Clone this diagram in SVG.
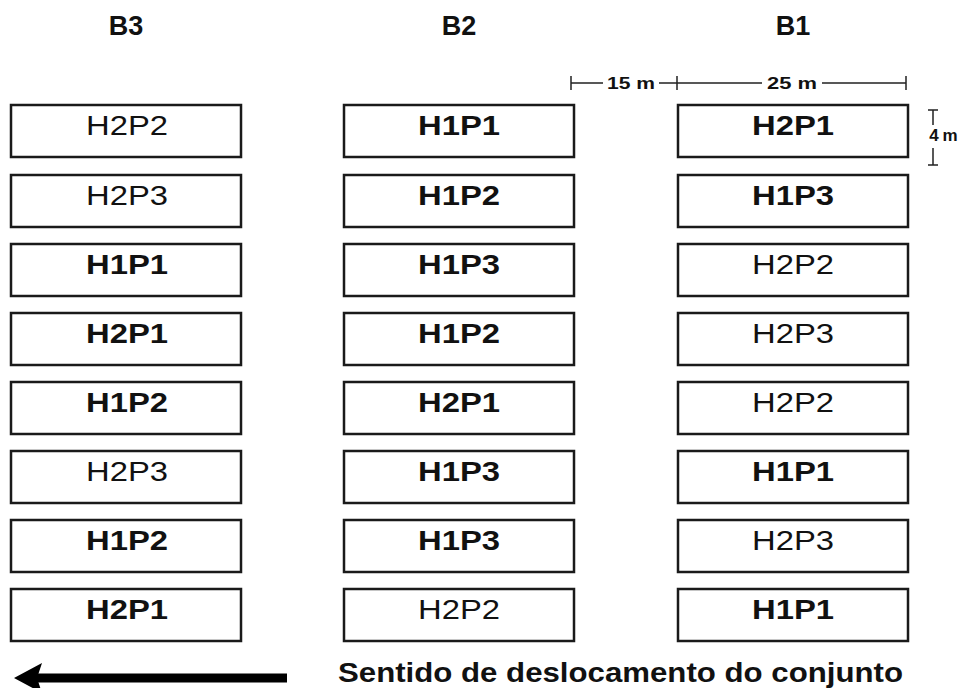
<svg xmlns="http://www.w3.org/2000/svg" width="962" height="688" viewBox="0 0 962 688">
<style>
.box{fill:#fff;stroke:#1a1a1a;stroke-width:2.5}
.lb{font-family:"Liberation Sans",Arial,sans-serif;font-size:27px;text-anchor:middle;fill:#111}
.b{font-weight:bold}
.n{font-weight:normal}
.hd{font-family:"Liberation Sans",Arial,sans-serif;font-size:27px;font-weight:bold;text-anchor:middle;fill:#111}
.dim{stroke:#222;stroke-width:1.5;fill:none}
.dt{font-family:"Liberation Sans",Arial,sans-serif;font-size:17px;font-weight:bold;text-anchor:middle;fill:#111}
</style>
<rect width="962" height="688" fill="#fff"/>
<g id="headers">
<text class="hd" x="126" y="35">B3</text>
<text class="hd" x="459" y="35">B2</text>
<text class="hd" x="793" y="35">B1</text>
</g>
<g id="dimensions">
<path class="dim" d="M571 83H603M659 83H762M822 83H906M571 76V90M677 76V90M906 76V90"/>
<text class="dt" x="631" y="89" textLength="48" lengthAdjust="spacingAndGlyphs">15 m</text>
<text class="dt" x="792" y="89" textLength="50" lengthAdjust="spacingAndGlyphs">25 m</text>
<path class="dim" stroke-width="2.2" d="M928 110H938M933 110V125M933 148V165M928 165H938"/>
<text class="dt" x="934" y="141" font-size="14">4</text>
<text class="dt" x="950" y="141" font-size="14">m</text>
</g>
<g id="col-B3">
<g id="b3-r1"><rect class="box" x="11" y="105" width="230" height="52"/><text class="lb n" x="127" y="135" textLength="82" lengthAdjust="spacingAndGlyphs">H2P2</text></g>
<g id="b3-r2"><rect class="box" x="11" y="175" width="230" height="52"/><text class="lb n" x="127" y="205" textLength="82" lengthAdjust="spacingAndGlyphs">H2P3</text></g>
<g id="b3-r3"><rect class="box" x="11" y="244" width="230" height="52"/><text class="lb b" x="127" y="274" textLength="82" lengthAdjust="spacingAndGlyphs">H1P1</text></g>
<g id="b3-r4"><rect class="box" x="11" y="313" width="230" height="52"/><text class="lb b" x="127" y="343" textLength="82" lengthAdjust="spacingAndGlyphs">H2P1</text></g>
<g id="b3-r5"><rect class="box" x="11" y="382" width="230" height="52"/><text class="lb b" x="127" y="412" textLength="82" lengthAdjust="spacingAndGlyphs">H1P2</text></g>
<g id="b3-r6"><rect class="box" x="11" y="451" width="230" height="52"/><text class="lb n" x="127" y="481" textLength="82" lengthAdjust="spacingAndGlyphs">H2P3</text></g>
<g id="b3-r7"><rect class="box" x="11" y="520" width="230" height="52"/><text class="lb b" x="127" y="550" textLength="82" lengthAdjust="spacingAndGlyphs">H1P2</text></g>
<g id="b3-r8"><rect class="box" x="11" y="589" width="230" height="52"/><text class="lb b" x="127" y="619" textLength="82" lengthAdjust="spacingAndGlyphs">H2P1</text></g>
</g>
<g id="col-B2">
<g id="b2-r1"><rect class="box" x="344" y="105" width="230" height="52"/><text class="lb b" x="459" y="135" textLength="82" lengthAdjust="spacingAndGlyphs">H1P1</text></g>
<g id="b2-r2"><rect class="box" x="344" y="175" width="230" height="52"/><text class="lb b" x="459" y="205" textLength="82" lengthAdjust="spacingAndGlyphs">H1P2</text></g>
<g id="b2-r3"><rect class="box" x="344" y="244" width="230" height="52"/><text class="lb b" x="459" y="274" textLength="82" lengthAdjust="spacingAndGlyphs">H1P3</text></g>
<g id="b2-r4"><rect class="box" x="344" y="313" width="230" height="52"/><text class="lb b" x="459" y="343" textLength="82" lengthAdjust="spacingAndGlyphs">H1P2</text></g>
<g id="b2-r5"><rect class="box" x="344" y="382" width="230" height="52"/><text class="lb b" x="459" y="412" textLength="82" lengthAdjust="spacingAndGlyphs">H2P1</text></g>
<g id="b2-r6"><rect class="box" x="344" y="451" width="230" height="52"/><text class="lb b" x="459" y="481" textLength="82" lengthAdjust="spacingAndGlyphs">H1P3</text></g>
<g id="b2-r7"><rect class="box" x="344" y="520" width="230" height="52"/><text class="lb b" x="459" y="550" textLength="82" lengthAdjust="spacingAndGlyphs">H1P3</text></g>
<g id="b2-r8"><rect class="box" x="344" y="589" width="230" height="52"/><text class="lb n" x="459" y="619" textLength="82" lengthAdjust="spacingAndGlyphs">H2P2</text></g>
</g>
<g id="col-B1">
<g id="b1-r1"><rect class="box" x="678" y="105" width="230" height="52"/><text class="lb b" x="793" y="135" textLength="82" lengthAdjust="spacingAndGlyphs">H2P1</text></g>
<g id="b1-r2"><rect class="box" x="678" y="175" width="230" height="52"/><text class="lb b" x="793" y="205" textLength="82" lengthAdjust="spacingAndGlyphs">H1P3</text></g>
<g id="b1-r3"><rect class="box" x="678" y="244" width="230" height="52"/><text class="lb n" x="793" y="274" textLength="82" lengthAdjust="spacingAndGlyphs">H2P2</text></g>
<g id="b1-r4"><rect class="box" x="678" y="313" width="230" height="52"/><text class="lb n" x="793" y="343" textLength="82" lengthAdjust="spacingAndGlyphs">H2P3</text></g>
<g id="b1-r5"><rect class="box" x="678" y="382" width="230" height="52"/><text class="lb n" x="793" y="412" textLength="82" lengthAdjust="spacingAndGlyphs">H2P2</text></g>
<g id="b1-r6"><rect class="box" x="678" y="451" width="230" height="52"/><text class="lb b" x="793" y="481" textLength="82" lengthAdjust="spacingAndGlyphs">H1P1</text></g>
<g id="b1-r7"><rect class="box" x="678" y="520" width="230" height="52"/><text class="lb n" x="793" y="550" textLength="82" lengthAdjust="spacingAndGlyphs">H2P3</text></g>
<g id="b1-r8"><rect class="box" x="678" y="589" width="230" height="52"/><text class="lb b" x="793" y="619" textLength="82" lengthAdjust="spacingAndGlyphs">H1P1</text></g>
</g>
<g id="connectors">
<path d="M36 678H287" stroke="#000" stroke-width="9"/>
<polygon points="14,678 42,663 37,678 42,693" fill="#000"/>
</g>
<g id="caption">
<text x="338" y="682" font-family="'Liberation Sans',Arial,sans-serif" font-size="27" font-weight="bold" fill="#111" textLength="565" lengthAdjust="spacingAndGlyphs">Sentido de deslocamento do conjunto</text>
</g>
</svg>
